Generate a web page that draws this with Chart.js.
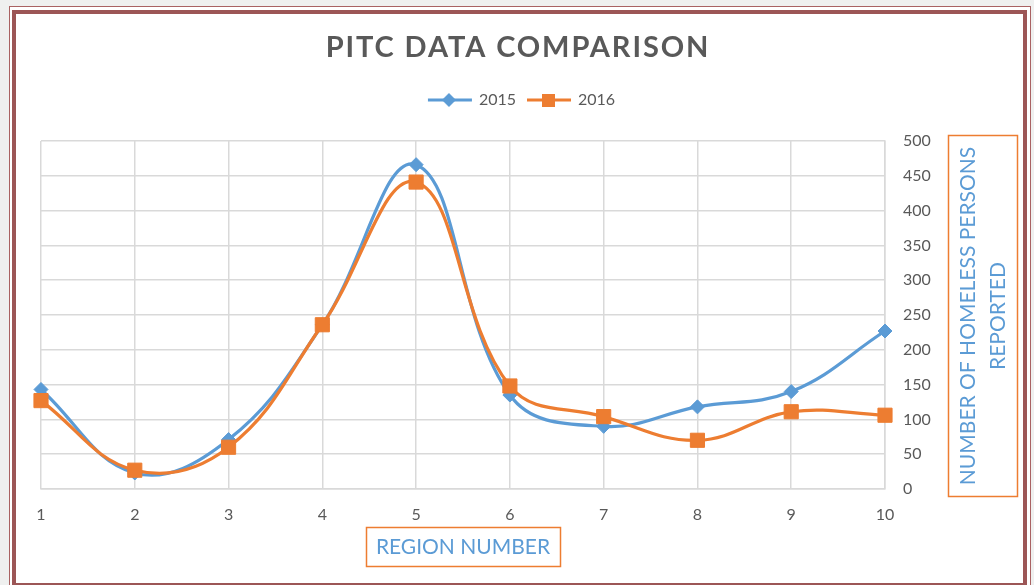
<!DOCTYPE html>
<html>
<head>
<meta charset="utf-8">
<script src="https://cdn.jsdelivr.net/npm/chart.js@4.4.1/dist/chart.umd.min.js"></script>
<style>
  body { margin: 0; background: #eff0ef; width: 1034px; height: 585px; overflow: hidden; position: relative; }
  #frame1 { position: absolute; left: 9px; top: 6px; width: 1020px; height: 600px; border: 1px solid #a96262; background: #fff; }
  #frame2 { position: absolute; left: 12px; top: 10px; width: 1007px; height: 569px; border: 4px solid #9c5656; background: #fff; }
  #wrap { position: absolute; left: 16px; top: 14px; width: 1007px; height: 569px; }
</style>
</head>
<body>
<div id="frame1"></div>
<div id="frame2"></div>
<div id="wrap"><canvas id="pitcChart"></canvas></div>
<script>
// chart data
var regions = ['1', '2', '3', '4', '5', '6', '7', '8', '9', '10'];
var counts2015 = [143, 23, 71, 236, 466, 135, 90, 118, 140, 227];
var counts2016 = [127, 27, 60, 236, 441, 148, 104, 70, 111, 106];
var seriesNames = ['2015', '2016'];

var titleText = 'PITC DATA COMPARISON';
var xTitle = 'REGION NUMBER';
var yTitle = ['NUMBER OF HOMELESS PERSONS', 'REPORTED'];

var blue = '#5b9bd5';
var orange = '#ed7d31';
var grey = '#595959';
var gridColor = '#d9d9d9';

// small line + marker images for the legend
function legendMark(color, shape) {
  var c = document.createElement('canvas');
  c.width = 46; c.height = 16;
  var g = c.getContext('2d');
  g.strokeStyle = color; g.lineWidth = 3;
  g.beginPath(); g.moveTo(1, 8); g.lineTo(45, 8); g.stroke();
  g.fillStyle = color;
  if (shape === 'diamond') {
    g.beginPath(); g.moveTo(22, 1); g.lineTo(29, 8); g.lineTo(22, 15); g.lineTo(15, 8); g.closePath(); g.fill();
  } else {
    g.fillRect(16, 2, 13, 13);
  }
  return c;
}
var legendMarks = [legendMark(blue, 'diamond'), legendMark(orange, 'square')];

// title and boxed axis titles
var chartText = {
  id: 'chartText',
  afterInit: function (chart) {
    var fit = chart.legend.fit;
    chart.legend.fit = function () {
      fit.call(this);
      this.height += 23;
    };
  },
  afterDraw: function (chart) {
    var ctx = chart.ctx;
    ctx.save();
    ctx.fillStyle = grey;
    ctx.font = 'bold 29px Lato';
    ctx.textAlign = 'center';
    ctx.textBaseline = 'middle';
    var w0 = ctx.measureText(titleText).width;
    var sp = Math.max(0, (383 - w0) / (titleText.length - 1));
    ctx.letterSpacing = sp.toFixed(1) + 'px';
    ctx.fillText(titleText, 501 + sp / 2, 34);
    ctx.letterSpacing = '0px';

    ctx.strokeStyle = orange;
    ctx.lineWidth = 1.5;
    ctx.strokeRect(350.5, 513.5, 194, 39);
    ctx.strokeRect(932.5, 121.5, 69, 361);

    ctx.fillStyle = blue;
    ctx.font = '21px Lato';
    ctx.fillText(xTitle, 447, 533);

    ctx.translate(967, 302);
    ctx.rotate(-Math.PI / 2);
    ctx.fillText(yTitle[0], 0, -15);
    ctx.fillText(yTitle[1], 0, 15);
    ctx.restore();
  }
};

document.addEventListener('DOMContentLoaded', function () {
  var canvas = document.getElementById('pitcChart');
  new Chart(canvas.getContext('2d'), {
    type: 'line',
    data: {
      labels: regions,
      datasets: [{
        label: seriesNames[0],
        data: counts2015,
        borderColor: blue,
        backgroundColor: blue,
        borderWidth: 3.2,
        pointStyle: 'rectRot',
        pointRadius: 7,
        pointHoverRadius: 7,
        pointBorderWidth: 1,
        tension: 0.4,
        order: 1
      }, {
        label: seriesNames[1],
        data: counts2016,
        borderColor: orange,
        backgroundColor: orange,
        borderWidth: 3.2,
        pointStyle: 'rect',
        pointRadius: 10,
        pointHoverRadius: 10,
        pointBorderWidth: 1,
        tension: 0.4,
        order: 0
      }]
    },
    options: {
      responsive: true,
      maintainAspectRatio: false,
      animation: false,
      layout: { padding: { top: 66, left: 25, right: 20, bottom: 0 } },
      plugins: {
        tooltip: { enabled: false },
        title: { display: false },
        legend: {
          position: 'top',
          labels: {
            usePointStyle: true,
            pointStyleWidth: 42,
            padding: 12,
            color: grey,
            font: { family: 'Lato', size: 16 },
            sort: function (a, b) { return a.datasetIndex - b.datasetIndex; },
            generateLabels: function (chart) {
              var items = Chart.defaults.plugins.legend.labels.generateLabels(chart);
              items.forEach(function (it) { it.pointStyle = legendMarks[it.datasetIndex]; });
              return items;
            }
          }
        }
      },
      scales: {
        x: {
          grid: { color: gridColor, lineWidth: 1.5, drawTicks: false },
          border: { color: gridColor, width: 1.5 },
          ticks: { color: grey, font: { family: 'Lato', size: 16 }, padding: 16 },
          afterFit: function (s) { s.height = 94; }
        },
        y: {
          position: 'right',
          min: 0,
          max: 500,
          grid: { color: gridColor, lineWidth: 1.5, drawTicks: false },
          border: { color: gridColor, width: 1.5 },
          ticks: { stepSize: 50, color: grey, font: { family: 'Lato', size: 16 }, padding: 18 },
          afterFit: function (s) { s.width = 118; }
        }
      }
    },
    plugins: [chartText]
  });
});
</script>
</body>
</html>
